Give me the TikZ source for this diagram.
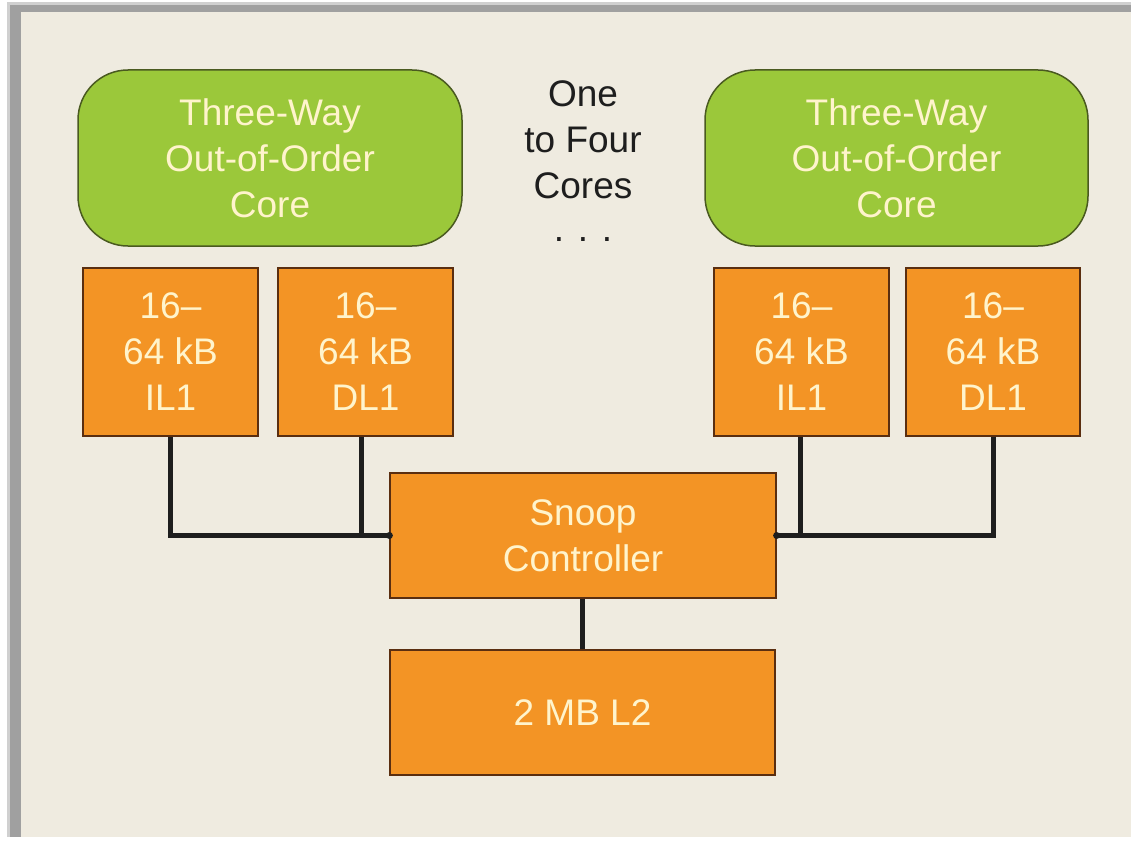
\documentclass[tikz,border=0pt]{standalone}
\usepackage{fontspec}
\setmainfont{Liberation Sans}
\definecolor{bgc}{HTML}{EFEBE0}
\definecolor{shad}{HTML}{A0A0A0}
\definecolor{grn}{HTML}{9BC83A}
\definecolor{grnd}{HTML}{4A5A20}
\definecolor{org}{HTML}{F39425}
\definecolor{orgd}{HTML}{5A2E10}
\definecolor{txtc}{HTML}{FFF4CC}
\definecolor{ln}{HTML}{1E1E1E}
\tikzset{
  bigtext/.style={font=\fontsize{37}{46}\selectfont},
  corebox/.style={draw=grnd, line width=1.5pt, fill=grn, rounded corners=50pt, text=txtc, align=center, bigtext},
  cachebox/.style={draw=orgd, line width=1.2pt, fill=org, text=txtc, align=center, bigtext},
  wire/.style={draw=ln, line width=5pt},
}
\begin{document}
\begin{tikzpicture}[x=1pt,y=-1pt]
\useasboundingbox (0,0) rectangle (1131,840);
\fill[white] (0,0) rectangle (1131,840);
\fill[shad!50] (7,2) rectangle (1131,837);
\fill[shad] (10,5) rectangle (1131,837);
\fill[bgc] (21,12) rectangle (1131,837);
% cores
\node[corebox, minimum width=384pt, minimum height=176pt] (c1) at (270,158) {Three-Way\\Out-of-Order\\Core};
\node[corebox, minimum width=383pt, minimum height=176pt] (c2) at (896.5,158) {Three-Way\\Out-of-Order\\Core};
\node[align=center, bigtext, text=ln] (t) at (583,140) {One\\to Four\\Cores};
\node[anchor=base, bigtext, text=ln] (dots) at (583,241) {. . .};
% L1 caches
\node[cachebox, minimum width=175pt, minimum height=168pt] (il1a) at (170.5,352) {16–\\64 kB\\IL1};
\node[cachebox, minimum width=175pt, minimum height=168pt] (dl1a) at (365.5,352) {16–\\64 kB\\DL1};
\node[cachebox, minimum width=175pt, minimum height=168pt] (il1b) at (801.5,352) {16–\\64 kB\\IL1};
\node[cachebox, minimum width=174pt, minimum height=168pt] (dl1b) at (993,352) {16–\\64 kB\\DL1};
% snoop and L2
\node[cachebox, minimum width=386pt, minimum height=125pt] (sn) at (583,535.5) {Snoop\\Controller};
\node[cachebox, minimum width=385pt, minimum height=125pt] (l2) at (582.5,712.5) {2 MB L2};
% wires
\coordinate (jl) at (170,535);
\coordinate (jr) at (993,535);
\draw[wire] (il1a.south -| jl) |- (sn.west);
\draw[wire] (dl1a.south -| 361,0) -- (361,535);
\draw[wire] (dl1b.south -| jr) |- (sn.east);
\draw[wire] (il1b.south -| 800,0) -- (800,535);
\draw[wire] (sn.south -| 582,0) -- (l2.north -| 582,0);
\fill[ln] (sn.west) circle (3.5pt);
\fill[ln] (sn.east) circle (3.5pt);
\end{tikzpicture}
\end{document}
